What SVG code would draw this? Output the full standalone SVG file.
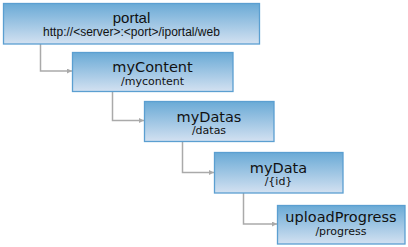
<svg xmlns="http://www.w3.org/2000/svg" width="408" height="247" viewBox="0 0 408 247">
<defs>
<linearGradient id="g" x1="0" y1="0" x2="0" y2="1">
<stop offset="0" stop-color="#6aaad6"/>
<stop offset="1" stop-color="#d3e1f1"/>
</linearGradient>
<marker id="arr" viewBox="0 0 10 10" refX="10" refY="5" markerWidth="5" markerHeight="5" orient="auto" markerUnits="userSpaceOnUse">
<path d="M0,0 L10,5 L0,10 z" fill="#aaaaaa"/>
</marker>
<style>
.box{fill:url(#g);stroke:#5b9fd1;stroke-width:1.3}
.t{font-family:"DejaVu Sans",Verdana,sans-serif;font-size:14.5px;fill:#111111;text-anchor:middle}
.s{font-family:"DejaVu Sans",Verdana,sans-serif;font-size:11px;fill:#111111;text-anchor:middle}
.pt{font-family:"Liberation Sans",Arial,sans-serif;font-size:15px;fill:#111111;text-anchor:middle}
.ps{font-family:"Liberation Sans",Arial,sans-serif;font-size:12px;fill:#111111;text-anchor:middle}
.c{fill:none;stroke:#aaaaaa;stroke-width:1.5;marker-end:url(#arr)}
</style>
</defs>
<g id="connectors">
<path class="c" d="M40.5,44 V71 H72"/>
<path class="c" d="M112.5,91 V120.5 H144"/>
<path class="c" d="M182.5,142 V172.5 H214"/>
<path class="c" d="M243.5,193 V224 H277"/>
</g>
<g id="portal">
<rect class="box" x="3.5" y="3.5" width="256" height="40.5"/>
<text class="pt" x="131.5" y="23">portal</text>
<text class="ps" x="131.5" y="36">http://&lt;server&gt;:&lt;port&gt;/iportal/web</text>
</g>
<g id="myContent">
<rect class="box" x="72.5" y="52.5" width="160.5" height="39"/>
<text class="t" x="152.5" y="71.5">myContent</text>
<text class="s" x="152.5" y="85">/mycontent</text>
</g>
<g id="myDatas">
<rect class="box" x="144.5" y="101.5" width="129.5" height="40"/>
<text class="t" x="209" y="121.5">myDatas</text>
<text class="s" x="209" y="134">/datas</text>
</g>
<g id="myData">
<rect class="box" x="214.5" y="152.5" width="128.5" height="40.5"/>
<text class="t" x="278.5" y="172.5">myData</text>
<text class="s" x="278.5" y="185">/{id}</text>
</g>
<g id="uploadProgress">
<rect class="box" x="277.5" y="205.5" width="127.5" height="38.5"/>
<text class="t" x="341" y="221.5">uploadProgress</text>
<text class="s" x="341" y="234.5">/progress</text>
</g>
</svg>
